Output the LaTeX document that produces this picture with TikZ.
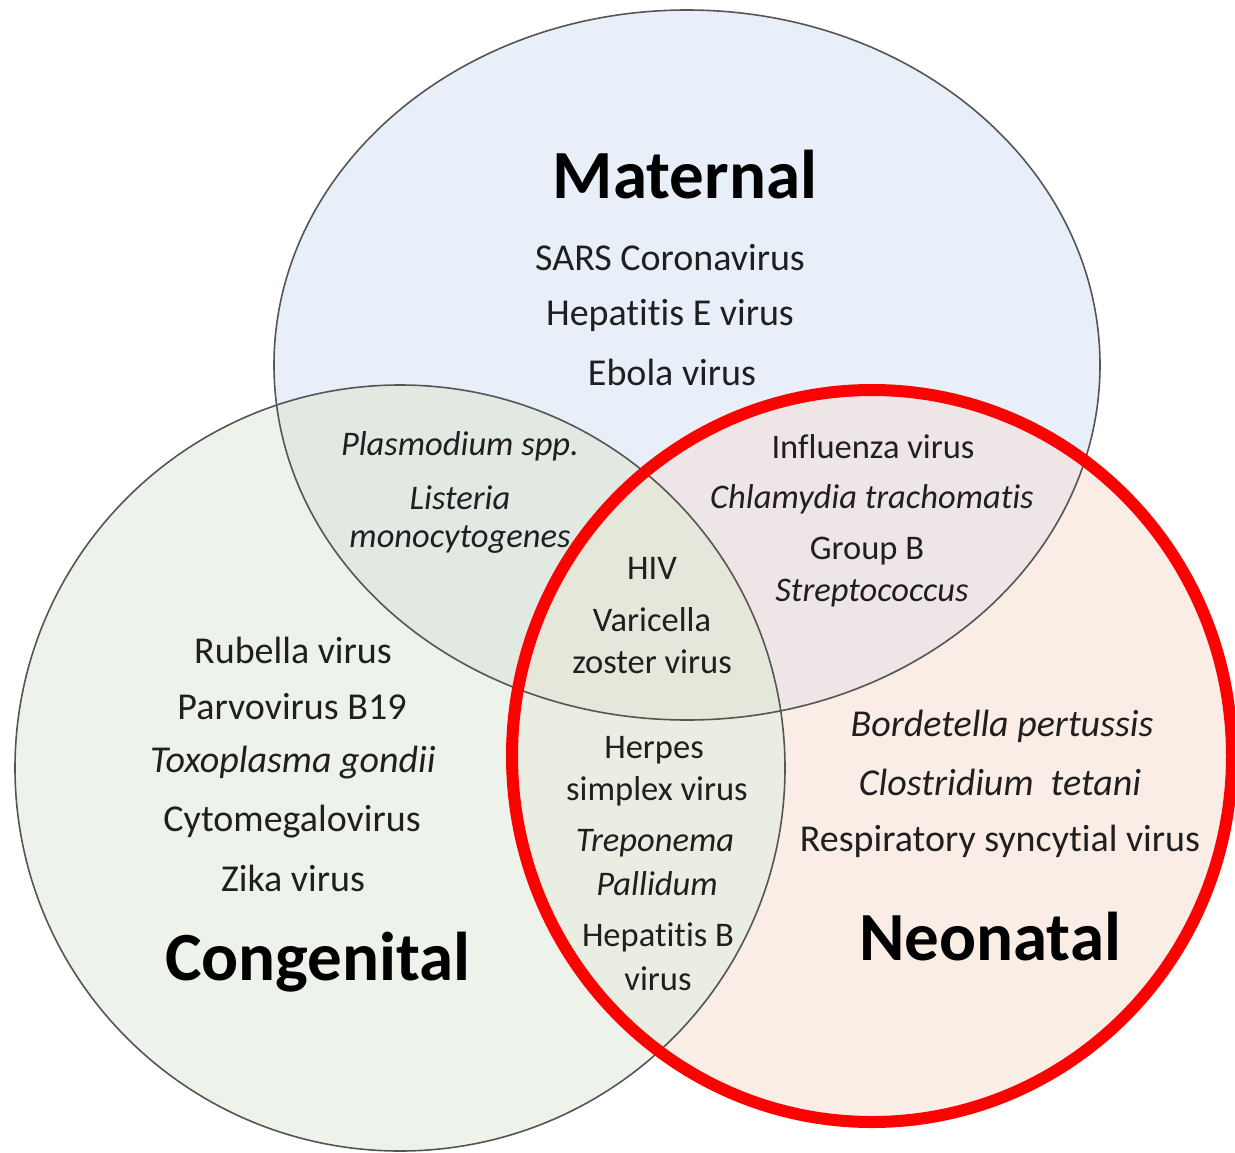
\documentclass[tikz,border=0pt]{standalone}
\usepackage{fontspec}
\setmainfont[Ligatures=NoCommon]{Carlito}
\definecolor{matC}{HTML}{E9EFF8}
\definecolor{conC}{HTML}{EDF2EA}
\definecolor{neoC}{HTML}{FAEDE6}
\definecolor{mcC}{HTML}{E2E9E3}
\definecolor{mnC}{HTML}{EEE6E6}
\definecolor{cnC}{HTML}{EAEDE2}
\definecolor{allC}{HTML}{E5E7DB}
\definecolor{edgeC}{HTML}{555555}
\begin{document}
\begin{tikzpicture}[x=1pt,y=-1pt,
  big/.style={font=\fontsize{38}{44}\selectfont, text=black!88, inner sep=0pt},
  mid/.style={font=\fontsize{34.5}{40}\selectfont, text=black!88, inner sep=0pt},
  ital/.style={font=\fontsize{38}{44}\selectfont\itshape, text=black!88, inner sep=0pt},
  midital/.style={font=\fontsize{34.5}{40}\selectfont\itshape, text=black!88, inner sep=0pt},
  title/.style={font=\fontsize{69}{80}\selectfont\bfseries, text=black, inner sep=0pt},
  outline/.style={draw=edgeC, line width=1.6pt}]
\useasboundingbox (0,0) rectangle (1235,1152);
\def\matpath{(687,365) ellipse [x radius=413, y radius=355]}
\def\conpath{(400,768) ellipse [x radius=385, y radius=383]}
\def\neopath{(872,756) ellipse [x radius=360, y radius=366]}
% base fills
\fill[matC] \matpath;
\fill[conC] \conpath;
\fill[neoC] \neopath;
% pairwise overlaps
\begin{scope}
  \clip \matpath;
  \fill[mcC] \conpath;
  \fill[mnC] \neopath;
\end{scope}
\begin{scope}
  \clip \conpath;
  \fill[cnC] \neopath;
  \clip \matpath;
  \fill[allC] \neopath;
\end{scope}
% outlines
\draw[outline] \matpath;
\draw[outline] \conpath;
\draw[outline] \neopath;
\draw[red, line width=12pt] \neopath;
% Maternal
\node[title] (tm) at (685,175) {Maternal};
\node[big] (m1) at (670,258) {SARS Coronavirus};
\node[big] (m2) at (670,315) {Hepatitis E virus};
\node[big] (m3) at (672,372) {Ebola virus};
% Maternal & Congenital
\node[midital] (mc1) at (460,446) {Plasmodium spp.};
\node[midital] (mc2) at (460,498) {Listeria};
\node[midital] (mc3) at (460,540) {monocytogenes};
% Maternal & Neonatal
\node[mid] (mn1) at (873,447) {Influenza virus};
\node[midital] (mn2) at (872,499) {Chlamydia trachomatis};
\node[mid] (mn3) at (867,551) {Group B};
\node[midital] (mn4) at (872,593) {Streptococcus};
% all three
\node[mid] (a1) at (652,568) {HIV};
\node[mid] (a2) at (652,620) {Varicella};
\node[mid] (a3) at (652,662) {zoster virus};
% Congenital & Neonatal
\node[mid] (cn1) at (654,750) {Herpes};
\node[mid] (cn2) at (657,791) {simplex virus};
\node[midital] (cn3) at (655,843) {Treponema};
\node[midital] (cn4) at (657,884) {Pallidum};
\node[mid] (cn5) at (658,937) {Hepatitis B};
\node[mid] (cn6) at (658,979) {virus};
% Congenital
\node[big] (c1) at (293,650) {Rubella virus};
\node[big] (c2) at (292,707) {Parvovirus B19};
\node[ital] (c3) at (293,763) {Toxoplasma gondii};
\node[big] (c4) at (292,822) {Cytomegalovirus};
\node[big] (c5) at (293,878) {Zika virus};
\node[title] (tc) at (318,962) {Congenital};
% Neonatal
\node[ital] (n1) at (1002,726) {Bordetella pertussis};
\node[ital] (n2) at (1000,782) {Clostridium\ \ tetani};
\node[big] (n3) at (1000,841) {Respiratory syncytial virus};
\node[title] (tn) at (990,937) {Neonatal};
\end{tikzpicture}
\end{document}
